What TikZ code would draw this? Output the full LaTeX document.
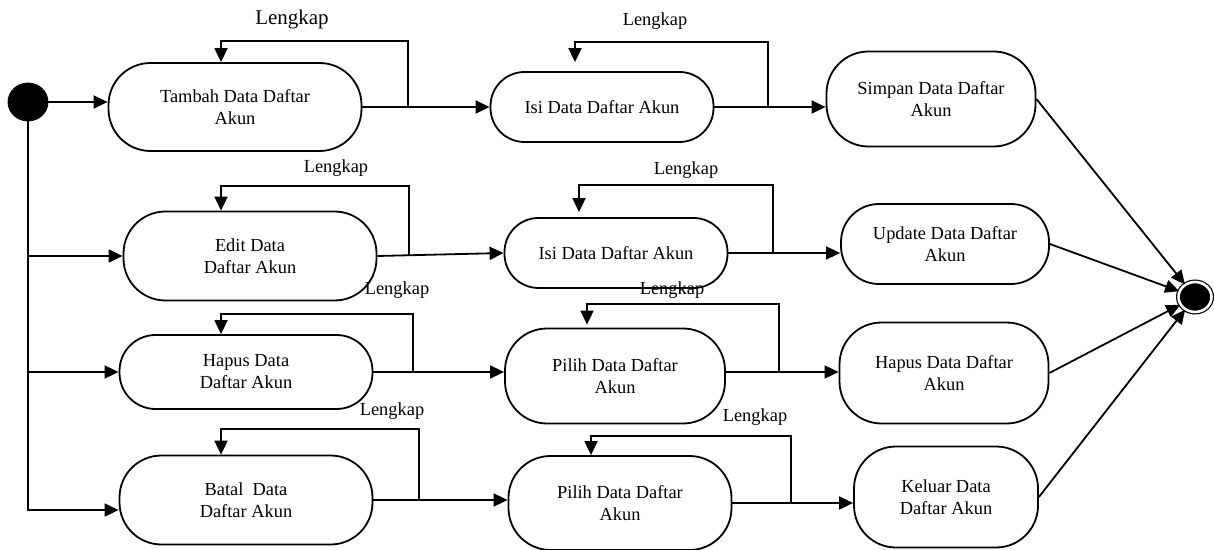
\documentclass[tikz,border=0pt]{standalone}
\usepackage{fontspec}
\setmainfont{Liberation Serif}
\usetikzlibrary{positioning}
\usetikzlibrary{arrows.meta}
\usetikzlibrary{shapes.geometric}
\newcommand\boxfont{\fontsize{9.2}{11}\selectfont}
\newcommand\bigfont{\fontsize{10.5}{12}\selectfont}
\tikzset{
state/.style={draw, line width=0.9pt, rounded corners=21pt, align=center, inner sep=2pt, font=\boxfont},
flow/.style={line width=0.9pt, -{Triangle[length=7pt,width=6.5pt]}},
wire/.style={line width=0.9pt},
lbl/.style={inner sep=0pt, font=\boxfont},
initial/.style={ellipse, fill=black, draw, minimum width=20pt, minimum height=19pt, inner sep=0pt},
final/.style={ellipse, fill=black, draw, line width=0.6pt, double=white, double distance=1.3pt, minimum width=16.5pt, minimum height=15pt, inner sep=0pt},
}
\begin{document}
\begin{tikzpicture}[x=0.5pt, y=-0.5pt]
\useasboundingbox (0,0) rectangle (1214,550);
%Place the nodes
\node[initial] (start) at (28,102) {};
\node[final] (finish) at (1195,297) {};

\node[state, minimum width=126.5pt, minimum height=44pt] (tambah) at (235,107) {Tambah Data Daftar\\Akun};
\node[state, rounded corners=17pt, minimum width=111.5pt, minimum height=35pt] (isiA) at (602,107) {Isi Data Daftar Akun};
\node[state, minimum width=104.5pt, minimum height=47.5pt] (simpan) at (931,99) {Simpan Data Daftar\\Akun};

\node[state, minimum width=126.5pt, minimum height=44.5pt] (edit) at (250,256) {Edit Data\\Daftar Akun};
\node[state, rounded corners=17pt, minimum width=111.5pt, minimum height=35pt] (isiB) at (616,253) {Isi Data Daftar Akun};
\node[state, rounded corners=19pt, minimum width=104pt, minimum height=40pt] (update) at (945,244) {Update Data Daftar\\Akun};

\node[state, rounded corners=18pt, minimum width=126.5pt, minimum height=37pt] (hapusA) at (246,372) {Hapus Data\\Daftar Akun};
\node[state, minimum width=110pt, minimum height=47.5pt] (pilihA) at (615,376) {Pilih Data Daftar\\Akun};
\node[state, minimum width=104.5pt, minimum height=50.5pt] (hapusB) at (944,373) {Hapus Data Daftar\\Akun};

\node[state, minimum width=126.5pt, minimum height=44.5pt] (batal) at (246,500) {Batal~ Data\\Daftar Akun};
\node[state, minimum width=111.5pt, minimum height=47pt] (pilihB) at (620,503) {Pilih Data Daftar\\Akun};
\node[state, minimum width=92pt, minimum height=50.5pt] (keluar) at (946,497) {Keluar Data\\Daftar Akun};

%Guard labels
\node[lbl, font=\bigfont] (lkTambah) at (292,19) {Lengkap};
\node[lbl] (lkIsiA) at (655,21) {Lengkap};
\node[lbl] (lkEdit) at (336,168) {Lengkap};
\node[lbl] (lkIsiB) at (686,170) {Lengkap};
\node[lbl] (lkHapus) at (397,290) {Lengkap};
\node[lbl] (lkPilihA) at (672,290) {Lengkap};
\node[lbl] (lkBatal) at (392,411) {Lengkap};
\node[lbl] (lkPilihB) at (755,417) {Lengkap};

%From the initial state
\draw[flow] (start) -- (start -| tambah.west);
\draw[flow] (start.south) |- ([yshift=-5pt]batal.west);
\draw[flow] (start.south |- edit.west) -- (edit.west);
\draw[flow] (start.south |- hapusA.west) -- (hapusA.west);

%Rows
\draw[flow] (tambah.east) -- (isiA.west);
\draw[flow] (isiA.east) -- (simpan.west |- isiA.east);
\draw[flow] (edit.east) -- (isiB.west);
\draw[flow] (isiB.east) -- (update.west |- isiB.east);
\draw[flow] (hapusA.east) -- (pilihA.west |- hapusA.east);
\draw[flow] (pilihA.east |- hapusA.east) -- (hapusB.west |- hapusA.east);
\draw[flow] (batal.east) -- (pilihB.west |- batal.east);
\draw[flow] (pilihB.east) -- (keluar.west |- pilihB.east);

%Self loops
\foreach \n/\r/\jx/\ty/\ax/\g in {tambah/tambah/408/41/221/0pt, isiA/isiA/768/42/575/4.5pt,
  edit/edit/409/186/221/0pt, isiB/isiB/773/185/579/2.5pt,
  hapusA/hapusA/413/314/221/0pt, pilihA/hapusA/779/304/587/1.5pt,
  batal/batal/419/429/221/0pt, pilihB/pilihB/791/436/591/0pt} {
	\coordinate (x\n) at (\jx,0);
	\coordinate (t\n) at (\ax,\ty);
	\draw[flow, shorten >=\g] (x\n |- \r.east) |- (t\n) -- (t\n |- \n.north);
}

%To the final state
\foreach \n in {simpan, update, hapusB, keluar}
	\draw[flow] (\n.east) -- (finish);

\end{tikzpicture}
\end{document}
